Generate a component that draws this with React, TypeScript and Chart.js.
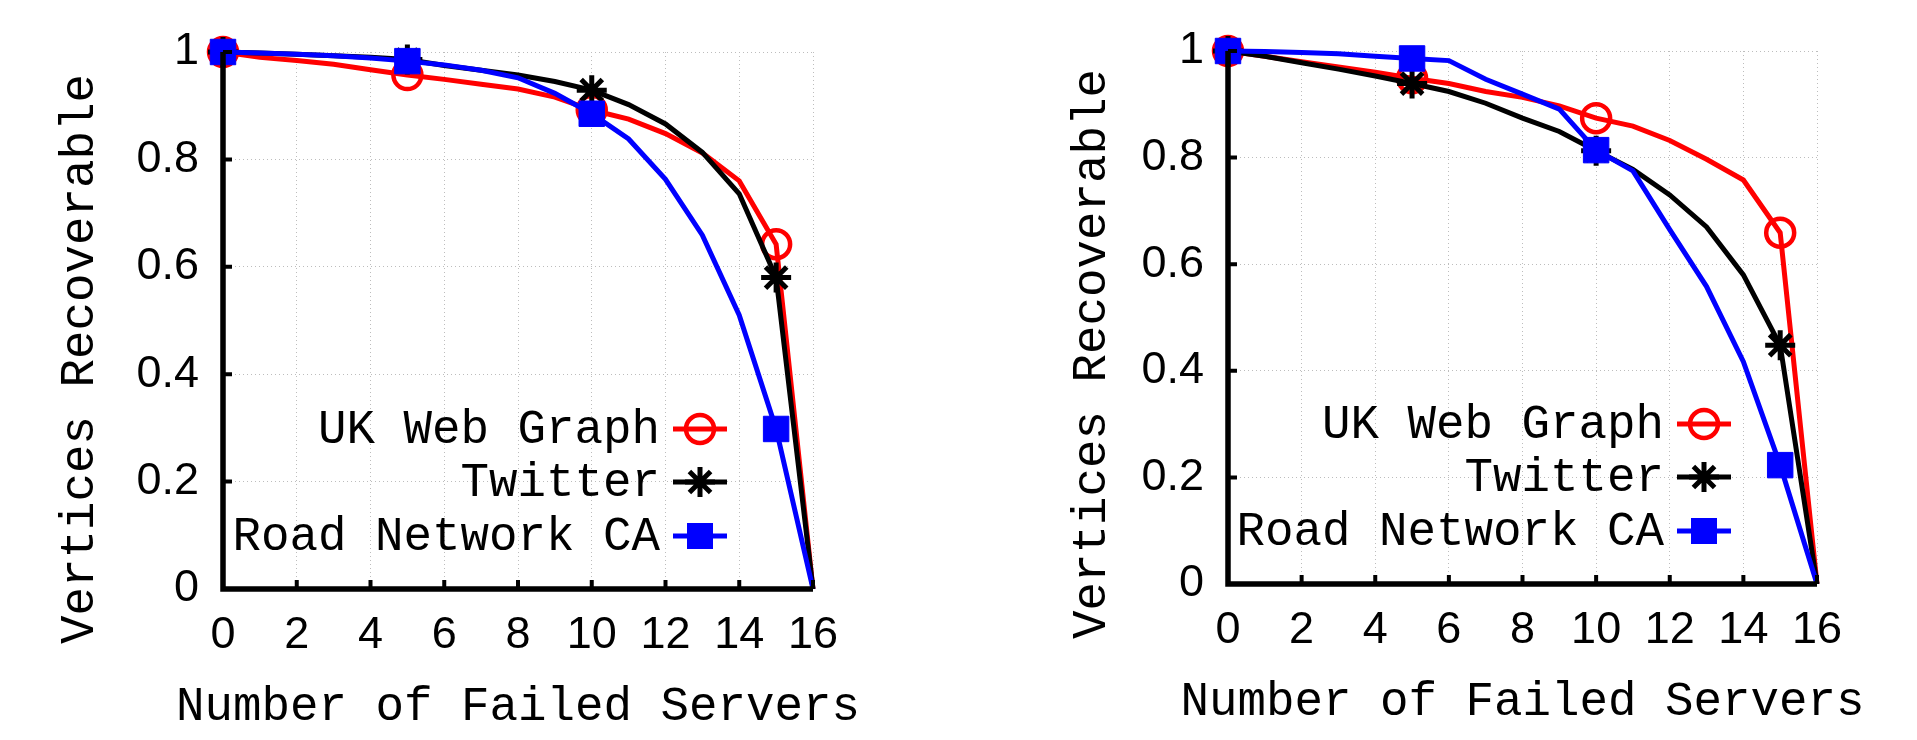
import React, { useEffect, useRef } from 'react';
import { Chart, registerables } from 'chart.js';

Chart.register(...registerables);

// ---------- data ----------
const failedServers = [0, 1, 2, 3, 4, 5, 6, 7, 8, 9, 10, 11, 12, 13, 14, 15, 16];
const xTickValues = [0, 2, 4, 6, 8, 10, 12, 14, 16];
const xTickLabels = ['0', '2', '4', '6', '8', '10', '12', '14', '16'];
const yTickValues = [0, 0.2, 0.4, 0.6, 0.8, 1];
const yTickLabels = ['0', '0.2', '0.4', '0.6', '0.8', '1'];
const seriesNames = ['UK Web Graph', 'Twitter', 'Road Network CA'];
const xAxisTitle = 'Number of Failed Servers';
const yAxisTitle = 'Vertices Recoverable';

// left panel
const leftUK = [1.0, 0.99, 0.984, 0.977, 0.967, 0.957, 0.949, 0.94, 0.931, 0.916, 0.892, 0.875, 0.848, 0.812, 0.76, 0.642, 0];
const leftTwitter = [1.0, 0.998, 0.996, 0.993, 0.99, 0.986, 0.975, 0.966, 0.957, 0.945, 0.929, 0.902, 0.866, 0.813, 0.736, 0.58, 0];
const leftRoad = [1.0, 0.998, 0.996, 0.993, 0.989, 0.983, 0.976, 0.966, 0.952, 0.923, 0.885, 0.838, 0.763, 0.659, 0.51, 0.298, 0];

// right panel
const rightUK = [1.0, 0.99, 0.98, 0.97, 0.96, 0.949, 0.939, 0.924, 0.913, 0.897, 0.874, 0.859, 0.832, 0.797, 0.758, 0.659, 0];
const rightTwitter = [1.0, 0.99, 0.978, 0.966, 0.953, 0.939, 0.924, 0.902, 0.874, 0.849, 0.813, 0.778, 0.73, 0.67, 0.58, 0.448, 0];
const rightRoad = [1.0, 0.999, 0.997, 0.995, 0.99, 0.986, 0.982, 0.947, 0.919, 0.891, 0.814, 0.775, 0.665, 0.558, 0.417, 0.223, 0];

// ---------- styles ----------
const COLORS = ['#ff0000', '#000000', '#0000ff'];
const POINT_STYLES = ['circle', 'star', 'rect'];
const POINT_RADII = [14, 15, 18];
const POINT_BORDER = [4.5, 5, 1];
const LINE_WIDTH = 5;
const TICK_FONT = '"Liberation Sans", Arial, Helvetica, sans-serif';
const MONO_FONT = '"Courier New", Courier, "Nimbus Mono PS", "Nimbus Mono L", FreeMono, "Liberation Mono", monospace';
const MONO_SIZE = 47.5;

type PanelCfg = {
  left: number;
  width: number;
  plotLeft: number;
  plotRight: number;
  plotTop: number;
  plotBottom: number;
  yTitleOffset: number;
  xTitleOffset: number;
};

const panels: PanelCfg[] = [
  { left: 0, width: 958, plotLeft: 223, plotRight: 813, plotTop: 52, plotBottom: 589, yTitleOffset: 130, xTitleOffset: 131 },
  { left: 958, width: 959, plotLeft: 270, plotRight: 859, plotTop: 51, plotBottom: 584, yTitleOffset: 123, xTitleOffset: 131 },
];

function drawMarker(ctx: CanvasRenderingContext2D, i: number, x: number, y: number) {
  ctx.save();
  ctx.strokeStyle = COLORS[i];
  ctx.fillStyle = COLORS[i];
  if (i === 0) {
    ctx.lineWidth = 4.5;
    ctx.beginPath();
    ctx.arc(x, y, 14, 0, Math.PI * 2);
    ctx.stroke();
  } else if (i === 1) {
    ctx.lineWidth = 5;
    const r = 15;
    const d = r * Math.SQRT1_2;
    ctx.beginPath();
    ctx.moveTo(x - r, y); ctx.lineTo(x + r, y);
    ctx.moveTo(x, y - r); ctx.lineTo(x, y + r);
    ctx.moveTo(x - d, y - d); ctx.lineTo(x + d, y + d);
    ctx.moveTo(x - d, y + d); ctx.lineTo(x + d, y - d);
    ctx.stroke();
  } else {
    ctx.fillRect(x - 13, y - 13, 26, 26);
  }
  ctx.restore();
}

const decorPlugin = {
  id: 'decor',
  afterDatasetsDraw(chart: any, _args: any, opts: any) {
    const { ctx, chartArea: a, scales } = chart;
    const p: PanelCfg = opts.panel;
    ctx.save();
    // axis lines (drawn on top of data)
    ctx.strokeStyle = '#000';
    ctx.lineWidth = 5.5;
    ctx.lineJoin = 'miter';
    ctx.beginPath();
    ctx.moveTo(a.left, a.top);
    ctx.lineTo(a.left, a.bottom);
    ctx.lineTo(a.right, a.bottom);
    ctx.stroke();
    // inward ticks
    ctx.lineWidth = 4;
    ctx.beginPath();
    yTickValues.forEach((v) => {
      if (v === 0) return;
      const y = scales.y.getPixelForValue(v);
      ctx.moveTo(a.left, y);
      ctx.lineTo(a.left + 9, y);
    });
    xTickValues.forEach((v) => {
      if (v === 0) return;
      const x = scales.x.getPixelForValue(v);
      ctx.moveTo(x, a.bottom);
      ctx.lineTo(x, a.bottom - 9);
    });
    ctx.stroke();

    // axis titles
    ctx.fillStyle = '#000';
    ctx.font = `${MONO_SIZE}px ${MONO_FONT}`;
    ctx.textAlign = 'center';
    ctx.textBaseline = 'alphabetic';
    ctx.fillText(xAxisTitle, (a.left + a.right) / 2, a.bottom + p.xTitleOffset);
    ctx.save();
    ctx.translate(a.left - p.yTitleOffset, a.bottom - 230);
    ctx.rotate(-Math.PI / 2);
    ctx.fillText(yAxisTitle, 0, 0);
    ctx.restore();

    // legend
    const rowOffsets = [160, 107, 53];
    seriesNames.forEach((name, i) => {
      const y = a.bottom - rowOffsets[i];
      ctx.fillStyle = '#000';
      ctx.textAlign = 'right';
      ctx.textBaseline = 'alphabetic';
      ctx.fillText(name, a.right - 153, y + 14);
      ctx.strokeStyle = COLORS[i];
      ctx.lineWidth = LINE_WIDTH;
      ctx.beginPath();
      ctx.moveTo(a.right - 140, y);
      ctx.lineTo(a.right - 86, y);
      ctx.stroke();
      drawMarker(ctx, i, a.right - 113, y);
    });
    ctx.restore();
  },
};

function buildConfig(p: PanelCfg, series: number[][]): any {
  const datasets = series.map((vals, i) => ({
    label: seriesNames[i],
    data: failedServers.map((x, j) => ({ x, y: vals[j] })),
    borderColor: COLORS[i],
    backgroundColor: COLORS[i],
    borderWidth: LINE_WIDTH,
    tension: 0,
    fill: false,
    clip: false,
    order: 3 - i,
    pointStyle: POINT_STYLES[i],
    pointRadius: (c: any) => (c.dataIndex % 5 === 0 ? POINT_RADII[i] : 0),
    pointHoverRadius: (c: any) => (c.dataIndex % 5 === 0 ? POINT_RADII[i] : 0),
    pointBorderWidth: POINT_BORDER[i],
    pointBorderColor: COLORS[i],
    pointBackgroundColor: i === 0 ? 'rgba(0,0,0,0)' : COLORS[i],
  }));

  const gridCommon = { color: '#bdbdbd', lineWidth: 1, drawTicks: false };

  return {
    type: 'line',
    data: { datasets },
    plugins: [decorPlugin],
    options: {
      animation: false,
      responsive: false,
      devicePixelRatio: 1,
      events: [],
      layout: {
        padding: { left: 0, top: p.plotTop, right: p.width - p.plotRight, bottom: 0 },
      },
      plugins: {
        legend: { display: false },
        tooltip: { enabled: false },
        title: { display: false },
        decor: { panel: p },
      },
      scales: {
        x: {
          type: 'linear',
          min: 0,
          max: 16,
          afterBuildTicks: (s: any) => {
            s.ticks = xTickValues.map((v) => ({ value: v }));
          },
          afterFit: (s: any) => {
            s.height = 740 - p.plotBottom;
          },
          ticks: {
            autoSkip: false,
            maxRotation: 0,
            padding: 20,
            color: '#000',
            font: { family: TICK_FONT, size: 45 },
            callback: (v: number) => xTickLabels[xTickValues.indexOf(v)],
          },
          grid: gridCommon,
          border: { display: false, dash: [1, 3] },
        },
        y: {
          type: 'linear',
          min: 0,
          max: 1,
          afterBuildTicks: (s: any) => {
            s.ticks = yTickValues.map((v) => ({ value: v }));
          },
          afterFit: (s: any) => {
            s.width = p.plotLeft;
          },
          ticks: {
            padding: 24,
            color: '#000',
            font: { family: TICK_FONT, size: 45 },
            callback: (v: number) => yTickLabels[yTickValues.indexOf(v)],
          },
          grid: gridCommon,
          border: { display: false, dash: [1, 3] },
        },
      },
    },
  };
}

function Panel({ p, series }: { p: PanelCfg; series: number[][] }) {
  const ref = useRef<HTMLCanvasElement>(null);
  useEffect(() => {
    const chart = new Chart(ref.current as HTMLCanvasElement, buildConfig(p, series));
    return () => chart.destroy();
  }, []);
  return (
    <canvas
      ref={ref}
      width={p.width}
      height={740}
      style={{ position: 'absolute', left: p.left, top: 0, width: p.width, height: 740, display: 'block' }}
    />
  );
}

export default function App() {
  return (
    <div style={{ position: 'absolute', left: 0, top: 0, width: 1917, height: 740, background: '#fff', overflow: 'hidden' }}>
      <Panel p={panels[0]} series={[leftUK, leftTwitter, leftRoad]} />
      <Panel p={panels[1]} series={[rightUK, rightTwitter, rightRoad]} />
    </div>
  );
}
